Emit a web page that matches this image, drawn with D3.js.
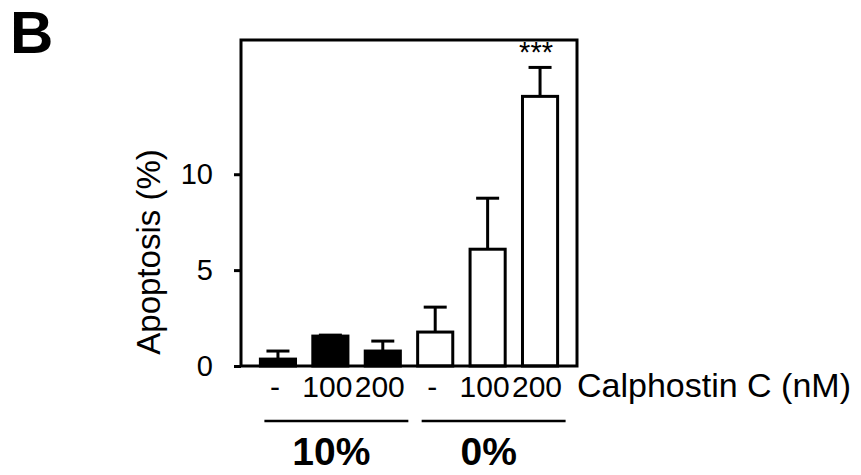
<!DOCTYPE html>
<html>
<head>
<meta charset="utf-8">
<script src="https://cdn.jsdelivr.net/npm/d3@7"></script>
<style>
	body { margin: 0; background: #fff; }
	svg text { font-family: "Liberation Sans", Arial, Helvetica, sans-serif; }
</style>
</head>
<body>
<div id="chart"></div>
<script>
//////////
// DATA //
//////////
var doses = ["-", "100", "200", "-", "100", "200"];
var serum = ["10%", "10%", "10%", "0%", "0%", "0%"];
var apoptosis = [0.36, 1.56, 0.78, 1.77, 6.09, 14.06];
var errors = [0.42, 0.05, 0.52, 1.3, 2.66, 1.51];
var groups = ["10%", "0%"];
var yTicks = [0, 5, 10];
var significance = ["", "", "", "", "", "***"];

/////////////////
// "CONSTANTS" //
/////////////////
var WIDTH = 861;
var HEIGHT = 475;
var PLOT_LEFT = 241;
var PLOT_RIGHT = 577;
var PLOT_TOP = 40;
var PLOT_BOTTOM = 366;
var STROKE_WIDTH = 3;
var CAP_WIDTH = 23;
var COLOR = "#000";

var svg = d3.select("#chart").append("svg")
	.attr("width", WIDTH)
	.attr("height", HEIGHT);

var idx = d3.range(doses.length);

var x = d3.scaleBand()
	.domain(idx)
	.range([PLOT_LEFT, PLOT_RIGHT])
	.paddingInner(0.33)
	.paddingOuter(0.37);

var y = d3.scaleLinear()
	.domain([0, 17])
	.range([PLOT_BOTTOM, PLOT_TOP]);

var mid = function(i) { return x(i) + x.bandwidth() / 2; };

// panel letter
svg.append("text")
	.attr("x", 10)
	.attr("y", 53)
	.attr("font-size", 60)
	.attr("font-weight", "bold")
	.text("B");

// bars
svg.selectAll("rect.bar")
	.data(idx)
	.enter().append("rect")
	.attr("class", "bar")
	.attr("x", function(i) { return x(i); })
	.attr("y", function(i) { return y(apoptosis[i]); })
	.attr("width", x.bandwidth())
	.attr("height", function(i) { return y(0) - y(apoptosis[i]); })
	.attr("fill", function(i) { return serum[i] == "10%" ? COLOR : "#fff"; })
	.attr("stroke", COLOR)
	.attr("stroke-width", STROKE_WIDTH);

// error bars (upper only)
var err = svg.selectAll("g.err")
	.data(idx)
	.enter().append("g")
	.attr("class", "err")
	.attr("stroke", COLOR)
	.attr("stroke-width", STROKE_WIDTH);
err.append("line")
	.attr("x1", mid)
	.attr("x2", mid)
	.attr("y1", function(i) { return y(apoptosis[i]); })
	.attr("y2", function(i) { return y(apoptosis[i] + errors[i]); });
err.append("line")
	.attr("x1", function(i) { return mid(i) - CAP_WIDTH / 2; })
	.attr("x2", function(i) { return mid(i) + CAP_WIDTH / 2; })
	.attr("y1", function(i) { return y(apoptosis[i] + errors[i]); })
	.attr("y2", function(i) { return y(apoptosis[i] + errors[i]); });

// significance stars
svg.selectAll("text.sig")
	.data(idx.filter(function(i) { return significance[i] != ""; }))
	.enter().append("text")
	.attr("class", "sig")
	.attr("x", function(i) { return mid(i) - 4; })
	.attr("y", 62)
	.attr("text-anchor", "middle")
	.attr("font-size", 29)
	.text(function(i) { return significance[i]; });

// frame
svg.append("rect")
	.attr("x", PLOT_LEFT)
	.attr("y", PLOT_TOP)
	.attr("width", PLOT_RIGHT - PLOT_LEFT)
	.attr("height", PLOT_BOTTOM - PLOT_TOP)
	.attr("fill", "none")
	.attr("stroke", COLOR)
	.attr("stroke-width", STROKE_WIDTH);

// y axis
var yAxis = svg.append("g")
	.attr("transform", "translate(" + PLOT_LEFT + ",0)")
	.call(d3.axisLeft(y).tickValues(yTicks).tickSize(7).tickPadding(21));
yAxis.select(".domain").remove();
yAxis.selectAll(".tick line")
	.attr("stroke", COLOR)
	.attr("stroke-width", STROKE_WIDTH);
yAxis.selectAll(".tick text")
	.attr("font-size", 29)
	.attr("font-family", "\"Liberation Sans\", Arial, sans-serif")
	.attr("fill", COLOR);

svg.append("text")
	.attr("transform", "translate(160,252) rotate(-90)")
	.attr("text-anchor", "middle")
	.attr("font-size", 33)
	.text("Apoptosis (%)");

// dose labels
svg.selectAll("text.dose")
	.data(idx)
	.enter().append("text")
	.attr("class", "dose")
	.attr("x", function(i) { return mid(i) - 3; })
	.attr("y", 397)
	.attr("text-anchor", "middle")
	.attr("font-size", 30)
	.text(function(i) { return doses[i]; });

svg.append("text")
	.attr("x", 577)
	.attr("y", 397)
	.attr("font-size", 34)
	.text("Calphostin C (nM)");

// serum groups
groups.forEach(function(g) {
	var members = idx.filter(function(i) { return serum[i] == g; });
	var x0 = x(members[0]) + 4;
	var x1 = x(members[members.length - 1]) + x.bandwidth() + 8;
	svg.append("line")
		.attr("x1", x0)
		.attr("x2", x1)
		.attr("y1", 421)
		.attr("y2", 421)
		.attr("stroke", COLOR)
		.attr("stroke-width", 2.5);
	svg.append("text")
		.attr("x", (x0 + x1) / 2 - 5)
		.attr("y", 465)
		.attr("text-anchor", "middle")
		.attr("font-size", 39)
		.attr("font-weight", "bold")
		.text(g);
});
</script>
</body>
</html>
